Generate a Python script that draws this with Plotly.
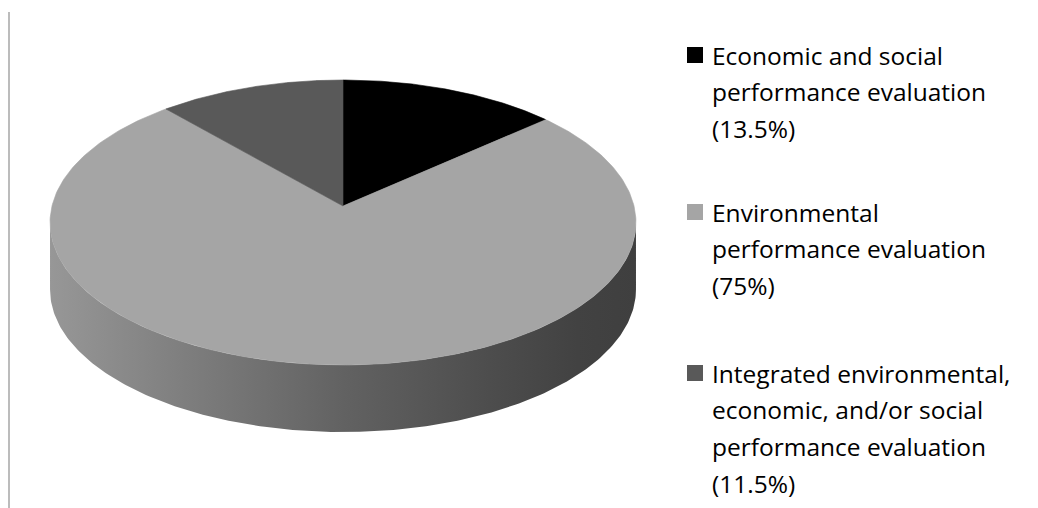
import numpy as np
import plotly.graph_objects as go

# ---------------- data ----------------
categories = [
    "Economic and social performance evaluation",
    "Environmental performance evaluation",
    "Integrated environmental, economic, and/or social performance evaluation",
]
values = [13.5, 75, 11.5]
legend_lines = [
    ["Economic and social", "performance evaluation"],
    ["Environmental", "performance evaluation"],
    ["Integrated environmental,", "economic, and/or social", "performance evaluation"],
]

# ---------------- style ----------------
top_colors = ["#000000", "#a5a5a5", "#595959"]
side_scales = [
    [[0, "#303030"], [1, "#000000"]],
    [[0, "#979797"], [0.25, "#7c7c7c"], [0.5, "#626262"], [0.75, "#4d4d4d"], [0.9, "#424242"], [1, "#3f3f3f"]],
    [[0, "#6a6a6a"], [1, "#333333"]],
]
W, H = 1038, 508
cx, cy = 343, 206          # projected pie centre (pixels)
A, B, K = 291, 140.6, 0.1158  # perspective ellipse parameters
DEPTH = 67
FONT = "Open Sans"
FSIZE = 24.5
LINE_H = 36.8
group_baselines = [65, 222, 383]
text_x = 710


def proj(theta_deg, dy=0.0):
    t = np.radians(theta_deg)
    X = np.sin(t)
    Y = -np.cos(t)
    den = 1 - K * Y
    return cx + A * X / den, cy + B * Y / den + dy


total = float(sum(values))
bounds = np.concatenate([[0], np.cumsum(values)]) / total * 360.0

fig = go.Figure()

# visible front wall range (silhouette tangent points)
th_r = np.degrees(np.arccos(-K))
th_l = 360 - th_r
xl, _ = proj(th_l)
xr, _ = proj(th_r)

# side walls
for i in range(len(values)):
    s, e = max(bounds[i], th_r), min(bounds[i + 1], th_l)
    if e <= s:
        continue
    th = np.linspace(s, e, 200)
    tx, ty = proj(th)
    bx, by = proj(th[::-1], DEPTH)
    xs = np.concatenate([tx, bx, tx[:1]])
    ys = np.concatenate([ty, by, ty[:1]])
    fig.add_trace(go.Scatter(
        x=xs, y=ys, mode="lines", fill="toself",
        line=dict(width=0, color="rgba(0,0,0,0)"),
        fillgradient=dict(type="horizontal", colorscale=side_scales[i], start=xl, stop=xr),
        hoverinfo="skip", showlegend=False,
    ))

# top face slices
for i in range(len(values)):
    th = np.linspace(bounds[i], bounds[i + 1], 300)
    px, py = proj(th)
    xs = np.concatenate([[cx], px, [cx]])
    ys = np.concatenate([[cy], py, [cy]])
    fig.add_trace(go.Scatter(
        x=xs, y=ys, mode="lines", fill="toself",
        fillcolor=top_colors[i], line=dict(width=0.6, color=top_colors[i]),
        name=categories[i], hoverinfo="name", showlegend=False,
    ))

# legend (manual, Excel-like)
annotations = []
shapes = []
for i, lines in enumerate(legend_lines):
    all_lines = lines + [f"({values[i]:g}%)"]
    base = group_baselines[i]
    for j, ln in enumerate(all_lines):
        annotations.append(dict(
            x=text_x, y=base + j * LINE_H - 10, xref="x", yref="y",
            text=ln, showarrow=False, xanchor="left", yanchor="middle",
            font=dict(family=FONT, size=FSIZE, color="#000000"),
        ))
    shapes.append(dict(
        type="rect", xref="x", yref="y",
        x0=687, x1=703, y0=base - 18, y1=base - 2,
        fillcolor=top_colors[i], line=dict(width=0),
    ))

# left border line
shapes.append(dict(type="line", xref="x", yref="y", x0=9, x1=9, y0=12, y1=508,
                   line=dict(color="#a6a6a6", width=1.5)))

fig.update_layout(
    width=W, height=H,
    margin=dict(l=0, r=0, t=0, b=0),
    paper_bgcolor="white", plot_bgcolor="white",
    xaxis=dict(range=[0, W], visible=False, fixedrange=True),
    yaxis=dict(range=[H, 0], visible=False, fixedrange=True),
    annotations=annotations, shapes=shapes,
    showlegend=False,
)

fig.write_html("out.html")
